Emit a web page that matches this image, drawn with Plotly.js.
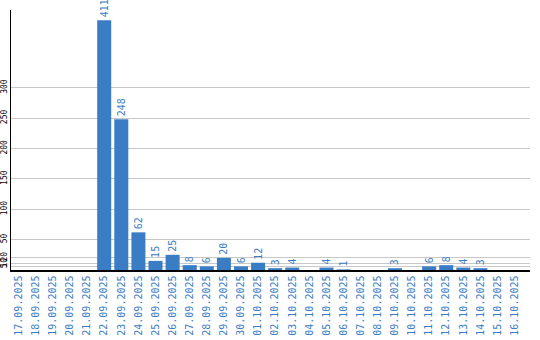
<!DOCTYPE html>
<html><head><meta charset="utf-8">
<script src="https://cdn.plot.ly/plotly-3.0.1.min.js"></script>
<style>body{margin:0;padding:0;background:#fff}#chart{width:540px;height:340px}</style>
</head><body><div id="chart"></div>
<script>
var dates = ["17.09.2025","18.09.2025","19.09.2025","20.09.2025","21.09.2025","22.09.2025","23.09.2025","24.09.2025","25.09.2025","26.09.2025","27.09.2025","28.09.2025","29.09.2025","30.09.2025","01.10.2025","02.10.2025","03.10.2025","04.10.2025","05.10.2025","06.10.2025","07.10.2025","08.10.2025","09.10.2025","10.10.2025","11.10.2025","12.10.2025","13.10.2025","14.10.2025","15.10.2025","16.10.2025"];
var counts = [0,0,0,0,0,411,248,62,15,25,8,6,20,6,12,3,4,0,4,1,0,0,3,0,6,8,4,3,0,0];
var yTicks = [5,10,20,50,100,150,200,250,300];

var blue = "#3b7dc4";
var labels = counts.map(function(v){ return v > 0 ? String(v) : ""; });

Plotly.newPlot("chart", [{
  type: "bar",
  x: dates,
  y: counts,
  text: labels,
  textposition: "outside",
  textangle: -90,
  cliponaxis: false,
  constraintext: "none",
  textfont: {family: "DejaVu Sans Mono", size: 10, color: blue},
  marker: {color: blue},
  hoverinfo: "none"
}], {
  width: 540, height: 340,
  margin: {l: 11, r: 10, t: 10, b: 70, pad: 0},
  paper_bgcolor: "#fff", plot_bgcolor: "#fff",
  showlegend: false,
  bargap: 0.18,
  uniformtext: {mode: false},
  xaxis: {
    type: "category",
    range: [-0.45, 29.9],
    showline: true, linecolor: "#000", linewidth: 1.5,
    showgrid: false, zeroline: false, ticks: "",
    tickangle: -90,
    tickfont: {family: "DejaVu Sans Mono", size: 10, color: blue}
  },
  yaxis: {
    range: [0, 428],
    tickmode: "array", tickvals: yTicks, ticktext: yTicks.map(String),
    showline: true, linecolor: "#000", linewidth: 1,
    showgrid: true, gridcolor: "#c8c8c8", gridwidth: 1,
    zeroline: false, ticks: "",
    tickangle: -90,
    ticklabelstandoff: 0,
    tickfont: {family: "DejaVu Sans Mono", size: 8, color: "#000"}
  }
}, {staticPlot: true, displayModeBar: false});
</script></body></html>
